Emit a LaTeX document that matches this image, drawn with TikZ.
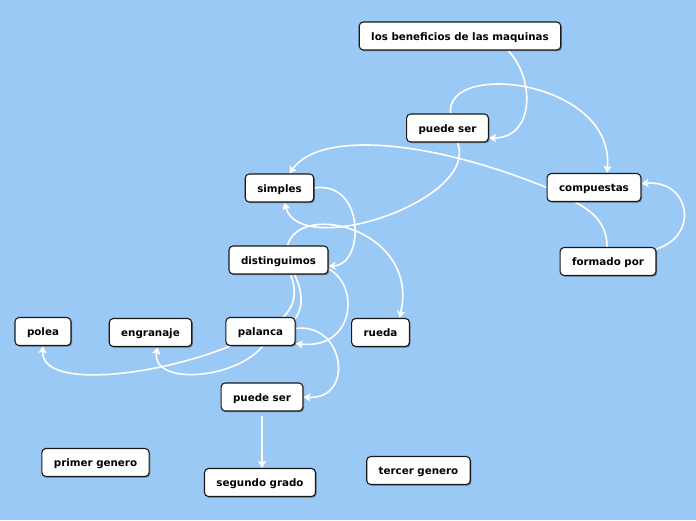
\documentclass[tikz,border=0pt]{standalone}
\usepackage{fontspec}
\setmainfont{DejaVu Sans}
\usetikzlibrary{arrows.meta,shadows,backgrounds}
\definecolor{sky}{HTML}{9BC9F5}
\tikzset{
  concept/.style={draw=black!90, line width=1.1pt, fill=white, rounded corners=4pt,
    minimum height=28pt, inner xsep=12pt, text height=9pt, text depth=1pt,
    font=\fontsize{10.3}{12}\selectfont\bfseries,
    drop shadow={shadow xshift=1.2pt, shadow yshift=-1.2pt, fill=black!70, opacity=.6}},
  link/.style={draw=white, line width=1.6pt, -{Stealth[length=7pt,width=8pt,inset=1.5pt]}},
  plain link/.style={draw=white, line width=1.6pt},
}
\begin{document}
\begin{tikzpicture}[x=1pt,y=-1pt]
  \useasboundingbox (0,0) rectangle (696,520);
  \node[concept] (ben) at (460,36) {los beneficios de las maquinas};
  \node[concept] (ps1) at (447.5,128) {puede ser};
  \node[concept] (simples) at (279.5,188) {simples};
  \node[concept] (comp) at (594,187.5) {compuestas};
  \node[concept] (dist) at (278.5,260) {distinguimos};
  \node[concept] (form) at (608,261.5) {formado por};
  \node[concept] (polea) at (43,331.5) {polea};
  \node[concept] (engr) at (150.5,332.5) {engranaje};
  \node[concept] (palanca) at (260.5,331.5) {palanca};
  \node[concept] (rueda) at (380.5,332.5) {rueda};
  \node[concept] (ps2) at (262,397) {puede ser};
  \node[concept] (primer) at (95.5,462.5) {primer genero};
  \node[concept] (segundo) at (260,482.5) {segundo grado};
  \node[concept] (tercer) at (418.5,470.5) {tercer genero};
  \begin{pgfonlayer}{background}
    \fill[sky] (0,0) rectangle (696,520);
    % upper half
    \draw[link] ([xshift=48pt]ben.south) .. controls (535,78) and (535,138) .. ([yshift=-10pt]ps1.east);
    \draw[link] ([xshift=3pt]ps1.north) .. controls (445,60) and (615,80) .. ([xshift=13pt]comp.north);
    \draw[link] ([xshift=10pt]ps1.south) .. controls (480,200) and (300,260) .. ([xshift=5pt]simples.south);
    \draw[link] (comp.west) .. controls (430,140) and (320,130) .. ([xshift=10pt]simples.north);
    \draw[link] ([yshift=-2pt]form.north east) .. controls (700,235) and (690,180) .. ([yshift=4pt]comp.east);
    \draw[plain link] ([xshift=-19pt]comp.south) .. controls (600,215) and (607,230) .. ([xshift=-1pt]form.north);
    % lower half
    \draw[link] (simples.east) .. controls (365,180) and (365,265) .. ([yshift=-6pt]dist.east);
    \draw[link] ([xshift=9pt]dist.north) .. controls (300,200) and (420,230) .. ([xshift=19pt]rueda.north);
    \draw[link] ([yshift=-9pt]dist.east) .. controls (360,285) and (355,350) .. ([yshift=-12pt]palanca.east);
    \draw[link] ([yshift=3pt]palanca.east) .. controls (345,322) and (355,400) .. (ps2.east);
    \draw[link] ([xshift=12pt]dist.south) .. controls (300,298) and (292,318) .. (palanca.center)
      .. controls (190,372) and (40,395) .. (polea.south);
    \draw[link] ([xshift=16pt]dist.south) .. controls (306,298) and (305,325) .. ([xshift=10pt]palanca.center)
      .. controls (258,378) and (150,390) .. ([xshift=7pt]engr.south);
    \draw[link, shorten <=4pt] (ps2.south) -- (ps2.south |- segundo.north);
  \end{pgfonlayer}
\end{tikzpicture}
\end{document}
